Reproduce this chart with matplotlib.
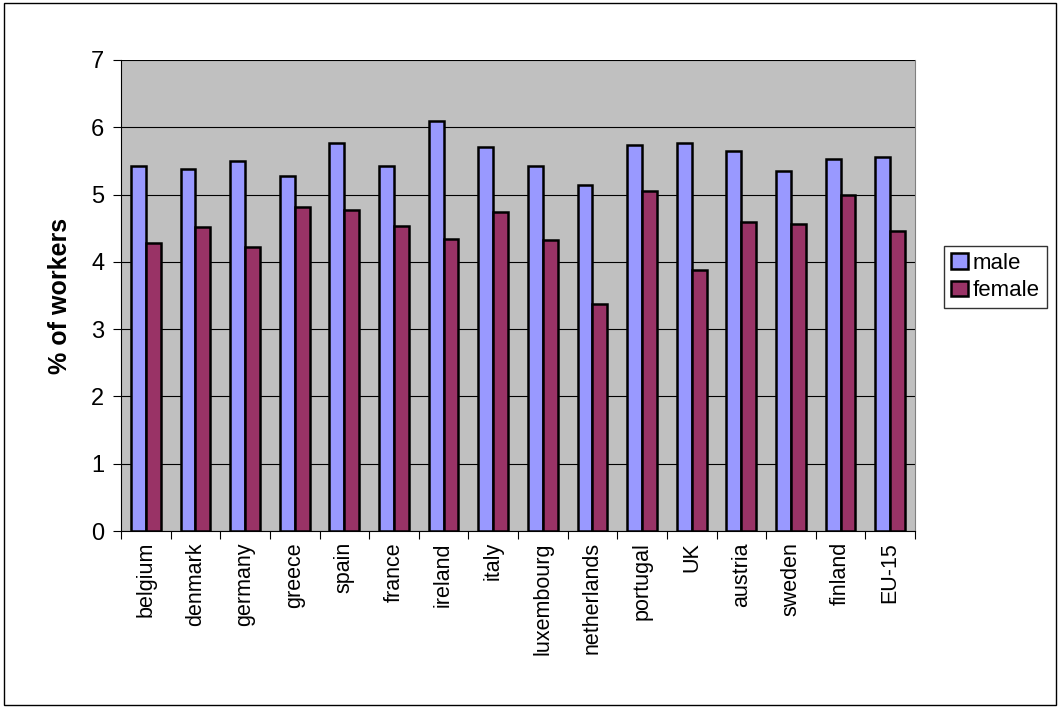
import matplotlib.pyplot as plt
import numpy as np
from matplotlib.patches import Rectangle

countries = ["belgium", "denmark", "germany", "greece", "spain", "france", "ireland", "italy",
             "luxembourg", "netherlands", "portugal", "UK", "austria", "sweden", "finland", "EU-15"]
male = [5.43, 5.38, 5.50, 5.28, 5.77, 5.43, 6.10, 5.71, 5.42, 5.14, 5.74, 5.76, 5.65, 5.35, 5.53, 5.56]
female = [4.28, 4.52, 4.22, 4.81, 4.77, 4.54, 4.34, 4.74, 4.33, 3.37, 5.06, 3.88, 4.59, 4.57, 4.99, 4.46]

plt.rcParams['font.family'] = ['Liberation Sans', 'DejaVu Sans']
fig = plt.figure(figsize=(10.6, 7.08), dpi=100)
fig.patches.append(Rectangle((0.004, 0.004), 0.992, 0.992, transform=fig.transFigure,
                             fill=False, edgecolor='black', linewidth=1))
ax = fig.add_axes([121/1060, 1-531/708, 794/1060, 471/708])
ax.set_facecolor('#c0c0c0')
x = np.arange(len(countries))
ax.bar(x - 0.15, male, 0.3, color='#9999ff', edgecolor='black', linewidth=1.8, label='male', zorder=3)
ax.bar(x + 0.15, female, 0.3, color='#993366', edgecolor='black', linewidth=1.8, label='female', zorder=3)
ax.set_xlim(-0.5, len(countries) - 0.5)
ax.set_ylim(0, 7)
ax.set_yticks(range(8))
ax.yaxis.grid(True, color='black', linewidth=0.8, zorder=0)
ax.set_xticks(np.arange(len(countries) + 1) - 0.5, minor=False)
ax.set_xticklabels([])
ax.set_xticks(x, minor=True)
ax.set_xticklabels(countries, minor=True, rotation=90, fontsize=15.5)
ax.tick_params(axis='x', which='minor', length=0, pad=8)
ax.tick_params(axis='x', which='major', length=6, direction='out')
ax.tick_params(axis='y', labelsize=17, length=6, pad=6)
ax.spines['top'].set_visible(False)
ax.spines['right'].set_color('#808080')
ax.set_ylabel('% of workers', fontsize=18, fontweight='bold', labelpad=14)
fig.legend(loc='upper left', bbox_to_anchor=(944/1060, 1-246/708), fontsize=16,
           frameon=True, fancybox=False, edgecolor='black', handlelength=0.8,
           handletextpad=0.2, borderpad=0.3, labelspacing=0.3, borderaxespad=0)
fig.savefig('out.png', dpi=100)
